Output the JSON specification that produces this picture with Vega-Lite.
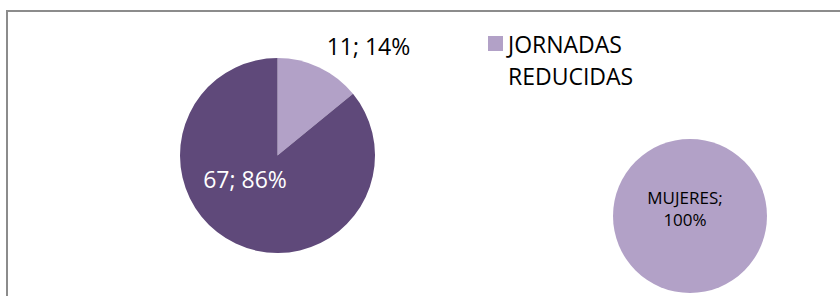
{
  "$schema": "https://vega.github.io/schema/vega-lite/v6.json",
  "width": 840,
  "height": 296,
  "autosize": "none",
  "padding": {"left": 7, "top": 11, "right": 0, "bottom": 0},
  "background": "white",
  "config": {"view": {"stroke": "#8c8c8c", "strokeWidth": 2}, "font": "Open Sans"},
  "datasets": {
    "jornadas": [
      {"grafico": "JORNADAS", "categoria": "JORNADAS REDUCIDAS", "valor": 11, "porcentaje": 14.1, "etiqueta": "11; 14%", "orden": 1},
      {"grafico": "JORNADAS", "categoria": "JORNADA COMPLETA", "valor": 67, "porcentaje": 85.9, "etiqueta": "67; 86%", "orden": 2}
    ],
    "mujeres": [
      {"grafico": "MUJERES", "categoria": "MUJERES", "valor": 11, "porcentaje": 100, "etiqueta": "MUJERES;\n100%", "orden": 1}
    ]
  },
  "encoding": {
    "x": {"field": "grafico", "type": "nominal", "scale": {"type": "point", "padding": 0, "domain": ["JORNADAS", "MUJERES"], "range": [270.5, 683]}, "axis": null},
    "y": {"field": "grafico", "type": "nominal", "scale": {"type": "point", "padding": 0, "domain": ["JORNADAS", "MUJERES"], "range": [144.5, 205]}, "axis": null}
  },
  "layer": [
    {
      "data": {"name": "jornadas"},
      "mark": {"type": "arc", "outerRadius": 97.5},
      "encoding": {
        "theta": {"field": "porcentaje", "type": "quantitative", "stack": true},
        "order": {"field": "orden", "type": "quantitative"},
        "color": {
          "field": "categoria", "type": "nominal",
          "scale": {"domain": ["JORNADAS REDUCIDAS", "JORNADA COMPLETA", "MUJERES"], "range": ["#B2A1C7", "#5F497A", "#B2A1C7"]},
          "legend": {
            "orient": "none", "legendX": 477, "legendY": 21, "title": null, "padding": 0,
            "values": ["JORNADAS REDUCIDAS"], "symbolType": "square", "symbolSize": 225, "symbolStrokeWidth": 0,
            "labelFont": "Open Sans", "labelFontSize": 23, "labelColor": "black", "labelOffset": 1, "labelLimit": 300,
            "labelExpr": "split(datum.label, ' ')", "labelBaseline": "top",
            "encode": {"labels": {"update": {"lineHeight": {"value": 32}, "dy": {"value": -9}}}}
          }
        }
      }
    },
    {
      "data": {"name": "jornadas"},
      "mark": {"type": "text", "radius": 141.2, "thetaOffset": 0.257, "fontSize": 23, "color": "black", "baseline": "middle", "align": "center"},
      "encoding": {
        "theta": {"field": "porcentaje", "type": "quantitative", "stack": true},
        "order": {"field": "orden", "type": "quantitative"},
        "detail": {"field": "categoria", "type": "nominal"},
        "text": {"condition": {"test": "datum.categoria === 'JORNADAS REDUCIDAS'", "field": "etiqueta"}, "value": ""}
      }
    },
    {
      "data": {"name": "jornadas"},
      "mark": {"type": "text", "radius": 41.6, "thetaOffset": 0.453, "fontSize": 23, "color": "white", "baseline": "middle", "align": "center"},
      "encoding": {
        "theta": {"field": "porcentaje", "type": "quantitative", "stack": true},
        "order": {"field": "orden", "type": "quantitative"},
        "detail": {"field": "categoria", "type": "nominal"},
        "text": {"condition": {"test": "datum.categoria === 'JORNADA COMPLETA'", "field": "etiqueta"}, "value": ""}
      }
    },
    {
      "data": {"name": "mujeres"},
      "mark": {"type": "arc", "outerRadius": 77},
      "encoding": {
        "theta": {"field": "porcentaje", "type": "quantitative", "stack": true},
        "color": {"field": "categoria", "type": "nominal"}
      }
    },
    {
      "data": {"name": "mujeres"},
      "mark": {"type": "text", "fontSize": 17, "lineBreak": "\n", "lineHeight": 21.5, "dx": -5, "dy": -17, "color": "black", "baseline": "middle", "align": "center"},
      "encoding": {
        "text": {"field": "etiqueta", "type": "nominal"}
      }
    }
  ]
}
